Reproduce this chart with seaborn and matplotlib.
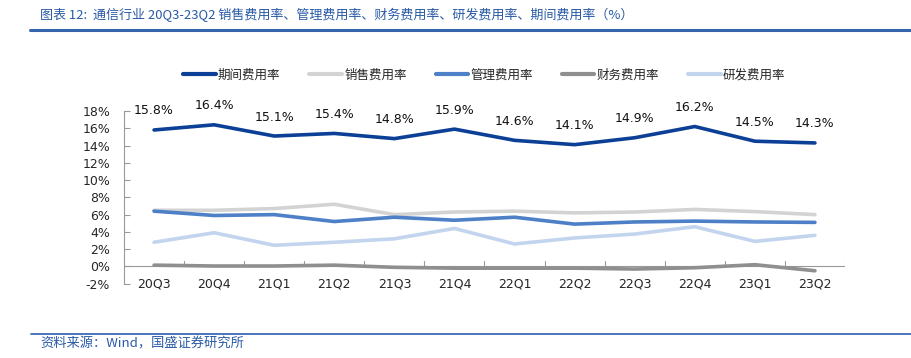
import numpy as np
import pandas as pd
import seaborn as sns
import matplotlib.pyplot as plt
from matplotlib.lines import Line2D

sns.set_style('white')
plt.rcParams['font.family'] = ['DejaVu Sans', 'Noto Sans CJK SC']

quarters = ['20Q3', '20Q4', '21Q1', '21Q2', '21Q3', '21Q4',
            '22Q1', '22Q2', '22Q3', '22Q4', '23Q1', '23Q2']
period_rate = [15.8, 16.4, 15.1, 15.4, 14.8, 15.9, 14.6, 14.1, 14.9, 16.2, 14.5, 14.3]
sales_rate = [6.5, 6.5, 6.7, 7.2, 6.0, 6.3, 6.4, 6.2, 6.3, 6.6, 6.35, 6.0]
admin_rate = [6.4, 5.9, 6.0, 5.2, 5.7, 5.35, 5.7, 4.9, 5.15, 5.25, 5.15, 5.1]
finance_rate = [0.15, 0.05, 0.05, 0.15, -0.1, -0.2, -0.2, -0.2, -0.3, -0.15, 0.2, -0.5]
rd_rate = [2.8, 3.9, 2.45, 2.8, 3.2, 4.4, 2.6, 3.3, 3.75, 4.6, 2.9, 3.6]

series_names = ['期间费用率', '销售费用率', '管理费用率', '财务费用率', '研发费用率']
series_values = [period_rate, sales_rate, admin_rate, finance_rate, rd_rate]
colors = ['#0c3f96', '#d3d3d3', '#4d80c6', '#8f8f8f', '#c3d5ee']
# draw order: light lines first, period on top
draw_order = ['销售费用率', '研发费用率', '管理费用率', '财务费用率', '期间费用率']

rows = []
for name, vals in zip(series_names, series_values):
    for i, (q, v) in enumerate(zip(quarters, vals)):
        rows.append({'x': i, 'quarter': q, 'series': name, 'value': v})
df = pd.DataFrame(rows)

fig = plt.figure(figsize=(9.12, 3.58), dpi=100)
ax = fig.add_axes([0.136, 0.2075, 0.7905, 0.4825])

palette = dict(zip(series_names, colors))
for name in draw_order:
    sns.lineplot(data=df[df['series'] == name], x='x', y='value', color=palette[name],
                 lw=2.6, ax=ax, legend=False, solid_capstyle='round')

for i, v in enumerate(period_rate):
    ax.annotate(f'{v:.1f}%', (i, v), xytext=(0, 9), textcoords='offset points',
                ha='center', va='bottom', fontsize=9, color='#111111')

ax.set_xlim(-0.5, len(quarters) - 0.5)
ax.set_ylim(-2, 18)
ax.set_yticks(np.arange(-2, 19, 2))
ax.set_yticklabels([f'{t}%' for t in range(-2, 19, 2)], fontsize=9)
ax.set_xticks([])
for q_i, q in enumerate(quarters):
    ax.text(q_i, -2, q, ha='center', va='center', fontsize=9)
ax.set_xlabel('')
ax.set_ylabel('')

for s in ['top', 'right', 'bottom']:
    ax.spines[s].set_visible(False)
ax.spines['left'].set_color('#999999')
ax.spines['left'].set_linewidth(0.8)
ax.tick_params(axis='y', left=True, direction='in', length=4, color='#999999', pad=10)

# x axis line at zero with category separators pointing up
ax.axhline(0, color='#999999', lw=0.8, zorder=1)
for b in np.arange(0.5, len(quarters), 1.0):
    ax.plot([b, b], [0, 0.6], color='#999999', lw=0.8, zorder=1)

handles = [Line2D([0], [0], color=c, lw=3) for c in colors]
fig.legend(handles, series_names, loc='center', bbox_to_anchor=(0.531, 0.79), ncol=5,
           frameon=False, handlelength=2.6, columnspacing=2.3, handletextpad=0.2,
           prop={'family': 'Noto Sans CJK SC', 'size': 9})

fig.text(0.044, 0.958, '图表 12:  通信行业 20Q3-23Q2 销售费用率、管理费用率、财务费用率、研发费用率、期间费用率（%）',
         fontsize=9.4, color='#2a5aa6', ha='left', va='center', family='Noto Sans CJK SC')
fig.add_artist(Line2D([0.033, 1.0], [0.915, 0.915], color='#3565ad', lw=2.2))
fig.add_artist(Line2D([0.034, 1.0], [0.068, 0.068], color='#2f5fab', lw=1.2))
fig.text(0.044, 0.038, '资料来源：Wind，国盛证券研究所', fontsize=9.5, color='#2a5aa6',
         ha='left', va='center', family='Noto Sans CJK SC')

fig.savefig('out.png', dpi=100)
